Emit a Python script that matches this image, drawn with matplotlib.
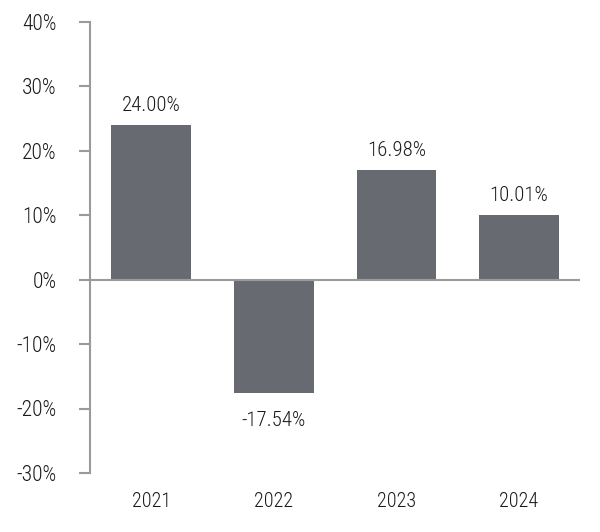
import matplotlib
matplotlib.use("Agg")
import matplotlib.pyplot as plt
from matplotlib.ticker import FuncFormatter

plt.rcParams['font.family'] = ['Roboto Condensed', 'Liberation Sans Narrow', 'Roboto', 'DejaVu Sans']
plt.rcParams['font.weight'] = 'light'

years = ["2021", "2022", "2023", "2024"]
returns = [24.00, -17.54, 16.98, 10.01]
y_ticks = [-30, -20, -10, 0, 10, 20, 30, 40]

bar_color = "#676b71"
axis_color = "#9a9a9a"
text_color = "#1a1a1a"

fig = plt.figure(figsize=(6, 5.32), dpi=100)
ax = fig.add_axes([0.15, 0.111, 0.817, 0.848])

x = list(range(len(years)))
ax.bar(x, returns, width=0.65, color=bar_color, zorder=2)
ax.axhline(0, color=axis_color, linewidth=1.5, zorder=3)

# value labels
for xi, v in zip(x, returns):
    if v >= 0:
        ax.annotate(f"{v:.2f}%", (xi, v), xytext=(0, 7), textcoords="offset points",
                    ha="center", va="bottom", fontsize=15, color=text_color)
    else:
        ax.annotate(f"{v:.2f}%", (xi, v), xytext=(0, -13), textcoords="offset points",
                    ha="center", va="top", fontsize=15, color=text_color)

ax.set_xlim(-0.5, 3.5)
ax.set_ylim(-30, 40)
ax.set_yticks(y_ticks)
ax.yaxis.set_major_formatter(FuncFormatter(lambda v, p: f"{v:.0f}%"))
ax.set_xticks(x)
ax.set_xticklabels(years)

for s in ["top", "right", "bottom"]:
    ax.spines[s].set_visible(False)
ax.spines["left"].set_color(axis_color)
ax.spines["left"].set_linewidth(1.5)

ax.tick_params(axis="y", length=8, width=1.5, color=axis_color, pad=16,
               labelsize=15.5, labelcolor=text_color)
ax.tick_params(axis="x", length=0, pad=14, labelsize=14.5, labelcolor=text_color)

fig.savefig("out.png", dpi=100)
